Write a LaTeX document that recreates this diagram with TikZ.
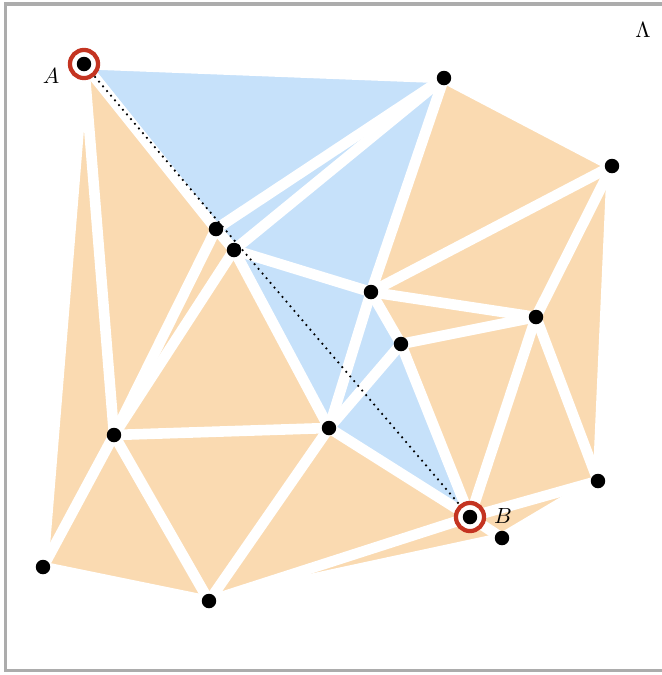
\documentclass[tikz,border=0pt]{standalone}
\usepackage{tikz}
\usetikzlibrary{positioning}
\definecolor{arancio}{RGB}{250,218,177}
\definecolor{azzurro}{RGB}{198,225,250}
\definecolor{rosso}{RGB}{196,52,33}
\definecolor{grigio}{RGB}{172,172,172}

\begin{document}
\begin{tikzpicture}[x=0.016cm, y=-0.016cm,
        vertice/.style={circle, fill=black, inner sep=0pt, minimum size=0.232cm},
        cerchio/.style={circle, draw=rosso, fill=white, line width=0.068cm, inner sep=0pt, minimum size=0.45cm},
        spigolo/.style={white, line width=0.17cm, line cap=round},
        tri a/.style={fill=arancio},
        tri b/.style={fill=azzurro}]
        \useasboundingbox (0,0) rectangle (662,675);
        %cornice
        \draw[grigio, line width=0.05cm] (5.5,4) rectangle (668,670.5);
        %vertici
        \coordinate (a) at (84,64);
        \coordinate (b) at (470,517);
        \coordinate (p1) at (444,78);
        \coordinate (p2) at (612,166);
        \coordinate (p3) at (216,229);
        \coordinate (p4) at (234,250);
        \coordinate (p5) at (371,292);
        \coordinate (p6) at (536,317);
        \coordinate (p7) at (401,344);
        \coordinate (p8) at (114,435);
        \coordinate (p9) at (329,428);
        \coordinate (p10) at (598,481);
        \coordinate (p11) at (502,538);
        \coordinate (p12) at (43,567);
        \coordinate (p13) at (209,601);
        %triangoli attraversati
        \foreach \p/\q/\r in {a/p1/p3, p3/p1/p4, p4/p1/p5, p4/p5/p9, p5/p7/p9, p7/b/p9}
            \path[tri b] (\p) -- (\q) -- (\r) -- cycle;
        %altri triangoli
        \foreach \p/\q/\r in {a/p3/p8, a/p8/p12, p3/p4/p8, p4/p8/p9, p8/p12/p13, p8/p9/p13,
                p9/p13/b, p13/b/p11, b/p11/p10, b/p10/p6, p6/p10/p2, p7/p6/b,
                p5/p6/p7, p5/p2/p6, p5/p1/p2}
            \path[tri a] (\p) -- (\q) -- (\r) -- cycle;
        %spigoli
        \foreach \u/\v in {a/p1, a/p3, p3/p1, p3/p4, p4/p1, p1/p5, p4/p5, p4/p9, p5/p9,
                p5/p7, p7/p9, p7/b, p9/b, a/p8, p3/p8, a/p12, p8/p12, p4/p8, p8/p9,
                p12/p13, p8/p13, p9/p13, p13/b, p13/p11, b/p11, p11/p10, b/p10,
                b/p6, p6/p10, p10/p2, p6/p2, p7/p6, p5/p6, p5/p2, p1/p2}
            \draw[spigolo] (\u) -- (\v);
        %estremi
        \node[cerchio] (A) at (a) {};
        \node[cerchio] (B) at (b) {};
        \draw[dotted, line width=0.8pt] (A) -- (B);
        \foreach \v in {a, b, p1, p2, p3, p4, p5, p6, p7, p8, p9, p10, p11, p12, p13}
            \node[vertice] (n\v) at (\v) {};
        %labels
        \node (labA) at (51,76) {$A$};
        \node (labB) at (503,516) {$B$};
        \node (labL) at (643,30) {$\Lambda$};
\end{tikzpicture}
\end{document}
